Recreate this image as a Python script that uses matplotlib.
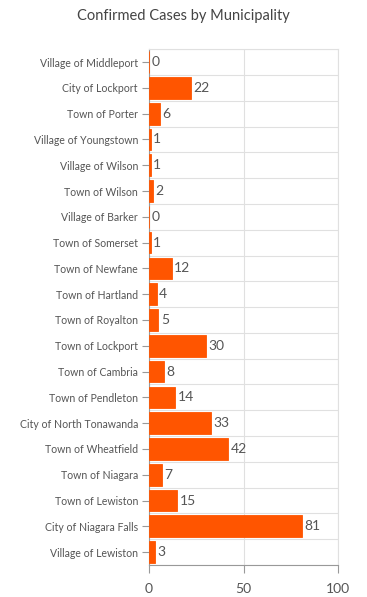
import numpy as np
import matplotlib.pyplot as plt

plt.rcParams['font.family'] = ['Lato', 'DejaVu Sans']

municipalities = ['Village of Middleport', 'City of Lockport', 'Town of Porter',
                  'Village of Youngstown', 'Village of Wilson', 'Town of Wilson',
                  'Village of Barker', 'Town of Somerset', 'Town of Newfane',
                  'Town of Hartland', 'Town of Royalton', 'Town of Lockport',
                  'Town of Cambria', 'Town of Pendleton', 'City of North Tonawanda',
                  'Town of Wheatfield', 'Town of Niagara', 'Town of Lewiston',
                  'City of Niagara Falls', 'Village of Lewiston']
cases = [0, 22, 6, 1, 1, 2, 0, 1, 12, 4, 5, 30, 8, 14, 33, 42, 7, 15, 81, 3]

bar_color = '#ff5500'
text_color = '#555555'
grid_color = '#e0e0e0'

fig = plt.figure(figsize=(3.67, 5.97), dpi=100)
ax = fig.add_axes([0.406, 0.0536, 0.515, 0.864])

ind = np.arange(len(municipalities))
ax.barh(ind, cases, height=0.84, color=bar_color, edgecolor=bar_color,
        linewidth=0.6, zorder=3)
for i, v in zip(ind, cases):
    ax.text(v + 1.2, i, str(v), va='center', ha='left', fontsize=10,
            color=text_color, zorder=4)

ax.set_xlim(0, 100)
ax.set_ylim(len(municipalities) - 0.5, -0.5)
ax.set_yticks(ind)
ax.set_yticklabels(municipalities, fontsize=7.6, color=text_color)
ax.set_yticks(np.arange(len(municipalities) + 1) - 0.5, minor=True)
ax.set_xticks([0, 50, 100])
ax.set_xticklabels(['0', '50', '100'], fontsize=10, color=text_color)

ax.grid(True, which='minor', axis='y', color=grid_color, linewidth=0.8, zorder=0)
ax.grid(True, which='major', axis='x', color=grid_color, linewidth=0.8, zorder=0)
ax.tick_params(axis='y', which='minor', length=0)
ax.tick_params(axis='y', which='major', length=5, color='#999999', pad=3)
ax.tick_params(axis='x', length=6, color='#999999', pad=7)

for side in ['top', 'right']:
    ax.spines[side].set_color(grid_color)
    ax.spines[side].set_linewidth(0.8)
for side in ['left', 'bottom']:
    ax.spines[side].set_color('#999999')
    ax.spines[side].set_linewidth(0.8)

fig.suptitle('Confirmed Cases by Municipality', fontsize=10.5, color='#444444', y=0.985)

fig.savefig('out.png', dpi=100)
